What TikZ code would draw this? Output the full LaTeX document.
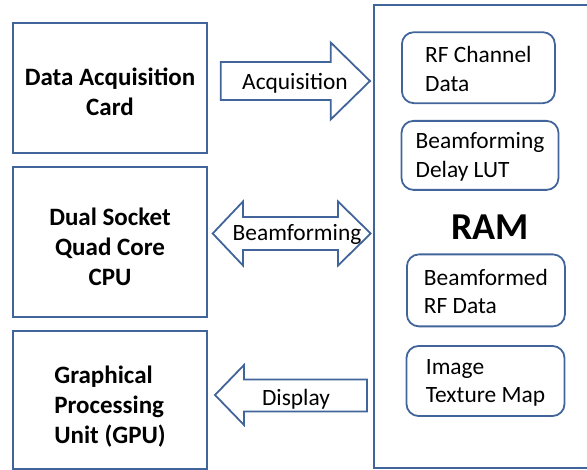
\documentclass[tikz,border=0pt]{standalone}
\usepackage{fontspec}
\setmainfont{Carlito}
\usepackage{tikz}
\usetikzlibrary{positioning}
\definecolor{outlineblue}{HTML}{41659A}

\begin{document}
\begin{tikzpicture}[x=1pt, y=-1pt, line width=1.8pt,
    hostbox/.style={rectangle, draw=outlineblue, minimum width=193.4pt, inner sep=0pt,
      align=center, font=\fontsize{25}{30}\selectfont\bfseries},
    membox/.style={rectangle, rounded corners=12pt, draw=outlineblue, inner sep=0pt,
      align=left, text height=47pt, font=\fontsize{23.4}{28.5}\selectfont},
    blockarrow/.style={draw=outlineblue, fill=white, line join=miter},
    arrowtext/.style={inner sep=0pt, font=\fontsize{23.4}{28.5}\selectfont}]

    \useasboundingbox (0,0) rectangle (587,470);

    \node (card) [hostbox, minimum height=130pt, text height=54.5pt] at (110,88.3)
      {Data Acquisition\\Card};
    \node (cpu) [hostbox, minimum height=150pt, text height=87pt, below=12pt of card]
      {Dual Socket\\Quad Core\\CPU};
    \node (gpu) [hostbox, minimum height=138pt, text height=91pt, below=12pt of cpu, align=left]
      {Graphical\\Processing\\Unit (GPU)};

    \node (ram) [rectangle, draw=outlineblue, minimum width=226pt, minimum height=463pt]
      at (487,236.5) {};
    \node (ramlabel) [font=\fontsize{38}{40}\selectfont\bfseries] at (490,227) {RAM};

    \node (rfdata) [membox, minimum width=153pt, minimum height=71pt] at (478.4,67.7)
      {RF Channel\\Data};
    \node (delaylut) [membox, minimum width=157pt, minimum height=69pt] at (480,155.4)
      {Beamforming\\Delay LUT};
    \node (bfdata) [membox, minimum width=158pt, minimum height=72pt] at (485.9,290.4)
      {Beamformed\\RF Data};
    \node (texmap) [membox, minimum width=158pt, minimum height=70pt] at (485.5,381)
      {Image\\Texture Map};

    % block arrows between the hosts and the RAM
    \draw [blockarrow] (220.7,62) -- (330.7,62) -- (330.7,42.5) -- (370,81)
      -- (330.7,119.5) -- (330.7,100) -- (220.7,100) -- cycle;
    \draw [blockarrow] (212.7,233.5) -- (243,201.5) -- (243,217) -- (338,217)
      -- (338,201.5) -- (370.7,233.5) -- (338,265.5) -- (338,250) -- (243,250)
      -- (243,265.5) -- cycle;
    \draw [blockarrow] (215,395) -- (244,365) -- (244,379.5) -- (367,379.5)
      -- (367,411.5) -- (244,411.5) -- (244,425) -- cycle;

    \node (acqtext) [arrowtext] at (295,83.5) {Acquisition};
    \node (bftext) [arrowtext] at (297,234) {Beamforming};
    \node (disptext) [arrowtext] at (296,399) {Display};
\end{tikzpicture}
\end{document}
